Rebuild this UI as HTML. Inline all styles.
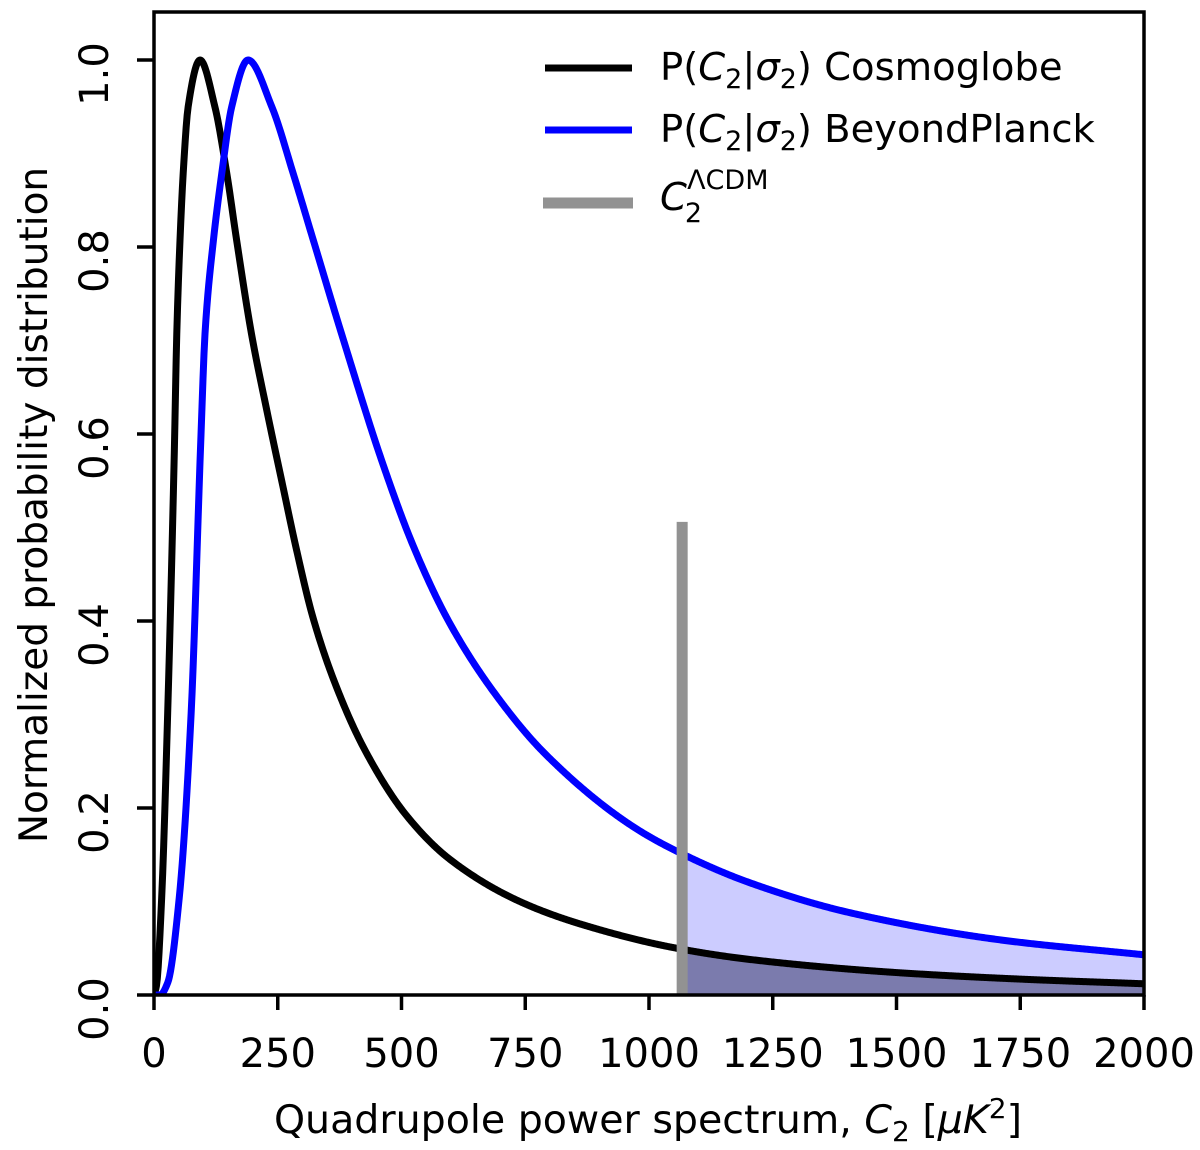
<!DOCTYPE html>
<html><head><meta charset="utf-8"><style>
html,body{margin:0;padding:0;background:#fff;}
svg{display:block;font-family:"DejaVu Sans","Liberation Sans",sans-serif;}
</style></head><body>
<svg id="chart" width="1200" height="1150" viewBox="0 0 1200 1150" xmlns="http://www.w3.org/2000/svg">
<g id="fills"></g>
<g id="series"></g>
<g id="axes"></g>
<g id="legend">
  <line x1="545" y1="68" x2="632" y2="68" stroke="#000" stroke-width="7"/>
  <text x="660" y="80" font-size="38.5">P(<tspan font-style="italic">C</tspan><tspan font-size="27" dy="8">2</tspan><tspan dy="-8">|</tspan><tspan font-style="italic">σ</tspan><tspan font-size="27" dy="8">2</tspan><tspan dy="-8">) Cosmoglobe</tspan></text>
  <line x1="545" y1="130" x2="632" y2="130" stroke="#0000ff" stroke-width="7"/>
  <text x="660" y="142" font-size="38.5">P(<tspan font-style="italic">C</tspan><tspan font-size="27" dy="8">2</tspan><tspan dy="-8">|</tspan><tspan font-style="italic">σ</tspan><tspan font-size="27" dy="8">2</tspan><tspan dy="-8">) BeyondPlanck</tspan></text>
  <line x1="543" y1="203" x2="633" y2="203" stroke="#929292" stroke-width="11"/>
  <text x="660" y="210" font-size="38.5"><tspan font-style="italic">C</tspan><tspan font-size="27" dx="-2" dy="12">2</tspan><tspan font-size="27" dx="-15" dy="-33">ΛCDM</tspan></text>
</g>
</svg>
<script>
const blackC = [0,5,15.5,27.6,41,46,52.5,59,69,93,123,147,167,197,228,260,288,321,366,426,510,598,739,867,1056,1204,1500,1750,2000];
const blackP = [0,0.01,0.104,0.301,0.58,0.707,0.807,0.879,0.95,1.0,0.95,0.879,0.807,0.707,0.625,0.545,0.476,0.404,0.333,0.262,0.192,0.145,0.100,0.075,0.050,0.038,0.024,0.017,0.012];
const blueC = [0,12,27.6,51,75,95,103,120,137,157,190,238,281,322,379,463,524,595,685,790,968,1063,1204,1406,1709,2000];
const blueP = [0,0,0.013,0.104,0.301,0.60,0.707,0.807,0.879,0.95,1.0,0.95,0.879,0.807,0.707,0.567,0.48,0.40,0.325,0.258,0.18,0.152,0.12,0.088,0.059,0.043];
const lcdmC = 1067;
const lcdmTop = 0.506;
const xTicks = [0,250,500,750,1000,1250,1500,1750,2000];
const xTickLabels = ["0","250","500","750","1000","1250","1500","1750","2000"];
const yTicks = [0,0.2,0.4,0.6,0.8,1.0];
const yTickLabels = ["0.0","0.2","0.4","0.6","0.8","1.0"];

const L=154,R=1144,T=12,B=995;
const xs=v=>L+(v-0)/2000*(R-L);
const ys=v=>B-v*(B-60);
const NS="http://www.w3.org/2000/svg";
function mk(tag,attrs,parent){const e=document.createElementNS(NS,tag);for(const k in attrs)e.setAttribute(k,attrs[k]);parent.appendChild(e);return e;}
function interp(C,P,x){for(let i=1;i<C.length;i++){if(x<=C[i]){const t=(x-C[i-1])/(C[i]-C[i-1]);return P[i-1]+t*(P[i]-P[i-1]);}}return P[P.length-1];}
// monotone cubic (Fritsch-Carlson) sampled densely
function monoSamples(C,P){
  const n=C.length,h=[],d=[],m=new Array(n);
  for(let i=0;i<n-1;i++){h.push(C[i+1]-C[i]);d.push((P[i+1]-P[i])/(C[i+1]-C[i]));}
  m[0]=d[0];m[n-1]=d[n-2];
  for(let i=1;i<n-1;i++){
    if(d[i-1]*d[i]<=0)m[i]=0;
    else{const w1=2*h[i]+h[i-1],w2=h[i]+2*h[i-1];m[i]=(w1+w2)/(w1/d[i-1]+w2/d[i]);}
  }
  const out=[];
  for(let i=0;i<n-1;i++){
    const steps=Math.max(4,Math.ceil(xs(C[i+1])-xs(C[i])));
    for(let s=0;s<steps;s++){
      const t=s/steps,t2=t*t,t3=t2*t;
      const v=(2*t3-3*t2+1)*P[i]+(t3-2*t2+t)*h[i]*m[i]+(-2*t3+3*t2)*P[i+1]+(t3-t2)*h[i]*m[i+1];
      out.push([C[i]+t*h[i],v]);
    }
  }
  out.push([C[n-1],P[n-1]]);
  return out;
}
function linePath(C,P){
  return monoSamples(C,P).map((p,i)=>(i?'L':'M')+xs(p[0]).toFixed(2)+','+ys(p[1]).toFixed(2)).join(' ');
}
function tailPath(C,P){
  const s=monoSamples(C,P).filter(p=>p[0]>=lcdmC);
  let d=`M${xs(lcdmC)},${ys(0)} L${xs(lcdmC)},${ys(s.length?s[0][1]:interp(C,P,lcdmC))}`;
  s.forEach(p=>{d+=` L${xs(p[0]).toFixed(2)},${ys(p[1]).toFixed(2)}`;});
  d+=` L${xs(2000)},${ys(0)} Z`;return d;
}
const fills=document.getElementById('fills');
const f1=mk('path',{d:tailPath(blueC,blueP),fill:'#ccccff'},fills);


const f2=mk('path',{d:tailPath(blackC,blackP),fill:'#7b7bad'},fills);



const series=document.getElementById('series');
const clip=mk('clipPath',{id:'plotclip'},series);
mk('rect',{x:L,y:T,width:R-L,height:B-T},clip);
const lb=mk('path',{d:linePath(blackC,blackP),fill:'none',stroke:'#000','stroke-width':7,'stroke-linejoin':'round','clip-path':'url(#plotclip)'},series);


const lu=mk('path',{d:linePath(blueC,blueP),fill:'none',stroke:'#0000ff','stroke-width':7,'stroke-linejoin':'round','clip-path':'url(#plotclip)'},series);


const vl=mk('line',{x1:xs(lcdmC),x2:xs(lcdmC),y1:ys(0),y2:ys(lcdmTop),stroke:'#929292','stroke-width':11},series);



const axes=document.getElementById('axes');
const fr=mk('rect',{x:L,y:T,width:R-L,height:B-T,fill:'none',stroke:'#000','stroke-width':3.5},axes);


xTicks.forEach((v,i)=>{
  const t=mk('line',{x1:xs(v),x2:xs(v),y1:B,y2:B+15,stroke:'#000','stroke-width':3.5},axes);
  
  
  const tx=mk('text',{x:xs(v),y:1067,'font-size':40,'text-anchor':'middle'},axes);
  tx.textContent=xTickLabels[i];
  
  
});
yTicks.forEach((v,i)=>{
  const t=mk('line',{x1:L-17,x2:L,y1:ys(v),y2:ys(v),stroke:'#000','stroke-width':3.5},axes);
  
  
  const y=ys(v)+14;
  const tx=mk('text',{x:108,y:y,'font-size':40,'text-anchor':'middle',transform:`rotate(-90 108 ${y})`},axes);
  tx.textContent=yTickLabels[i];
  
  
});
const xl=mk('text',{x:648,y:1133,'font-size':39.5,'text-anchor':'middle'},axes);
xl.innerHTML='Quadrupole power spectrum, <tspan font-style="italic">C</tspan><tspan font-size="28" dy="8">2</tspan><tspan dy="-8"> [</tspan><tspan font-style="italic">μK</tspan><tspan font-size="28" dy="-15">2</tspan><tspan dy="15">]</tspan>';


const yl=mk('text',{x:47,y:505,'font-size':39,'text-anchor':'middle',transform:'rotate(-90 47 505)'},axes);
yl.textContent='Normalized probability distribution';


</script>
</body></html>
